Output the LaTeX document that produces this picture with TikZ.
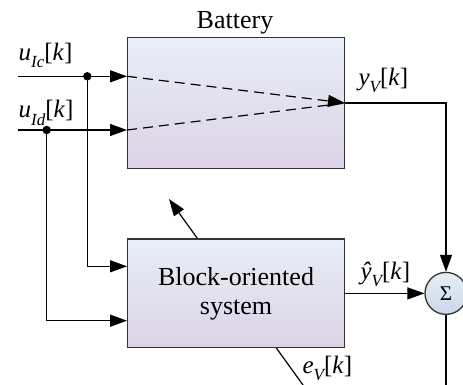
\documentclass[tikz,border=0pt]{standalone}
\usepackage{fontspec}
\setmainfont{Liberation Serif}
\usetikzlibrary{arrows.meta}
\definecolor{boxtop}{HTML}{E8EEF7}
\definecolor{boxbot}{HTML}{DCD3E5}
\definecolor{sumtop}{HTML}{E8EEF6}
\definecolor{sumbot}{HTML}{C9D8E8}
\definecolor{edge}{HTML}{333333}
% italic subscript set below the baseline
\newcommand{\sbs}[1]{\raisebox{-0.28em}{\fontsize{17}{17}\selectfont\itshape #1}}

\begin{document}
\begin{tikzpicture}[x=1pt,y=-1pt,
  line width=1.2pt,
  >={Triangle[length=17pt,width=12pt]},
  blockbox/.style={draw=edge, line width=1.3pt, top color=boxtop, bottom color=boxbot,
    minimum width=216.6pt, inner sep=0pt, align=center,
    font=\fontsize{26}{29}\selectfont},
  sumnode/.style={circle, draw=edge, line width=1.3pt, top color=sumtop, bottom color=sumbot,
    minimum size=42pt, inner sep=0pt, font=\fontsize{21}{21}\selectfont},
  lbl/.style={anchor=base west, inner sep=0pt, font=\fontsize{25}{25}\selectfont},
  junction/.style={circle, fill=black, minimum size=8.5pt, inner sep=0pt},
  estline/.style={dash pattern=on 10pt off 6pt}
]
\useasboundingbox (0,0) rectangle (463,385);
\clip (0,0) rectangle (463,385);

% parameter adaptation arrow, passing behind the model block
\coordinate (adjtail) at (313.8,400);
\coordinate (adjtip) at (169,199);
\draw[->] (adjtail) -- (adjtip);

% blocks
\node[blockbox, minimum height=130.6pt] (bat) at (236,103) {};
\node[anchor=base, inner sep=0pt, font=\fontsize{26}{26}\selectfont] (batlbl) at (235,29) {Battery};
\node[blockbox, minimum height=108.7pt] (bos) at (236,293.4) {Block-oriented\\system};
\node[sumnode] (sum) at (446,293.4) {Σ};

% inputs
\coordinate (inc) at (18,76.3);
\coordinate (ind) at (18,130);
\node[junction] (jc) at (87.3,76.3) {};
\node[junction] (jd) at (46.7,130) {};
\draw[->] (inc) -- (bat.west |- inc);
\draw[->] (ind) -- (bat.west |- ind);
\draw[->] (jc.center) |- (bos.west |- 0,266.3);
\draw[->] (jd.center) |- (bos.west |- 0,320.7);

% paths inside the battery
\draw[estline] (bat.west |- ind) -- (bat.east);
\draw[estline, ->] (bat.west |- inc) -- (bat.east);

% outputs and summation
\draw[->] (bat.east) -| (sum.north);
\draw[->] (bos.east) -- (sum.west);
\coordinate (sumout) at (446,400);
\draw (sum.south) -- (sumout);

% signal labels
\node[lbl] (ulc) at (18,61) {\textit{u}\sbs{Ic}[\textit{k}]};
\node[lbl] (uld) at (18,118) {\textit{u}\sbs{Id}[\textit{k}]};
\node[lbl] (yl) at (358,86) {\textit{y}\sbs{V}[\textit{k}]};
\node[lbl] (yhl) at (360,279) {\textit{\^y}\sbs{V}[\textit{k}]};
\node[lbl] (el) at (302,373) {\textit{e}\sbs{V}[\textit{k}]};
\end{tikzpicture}
\end{document}
